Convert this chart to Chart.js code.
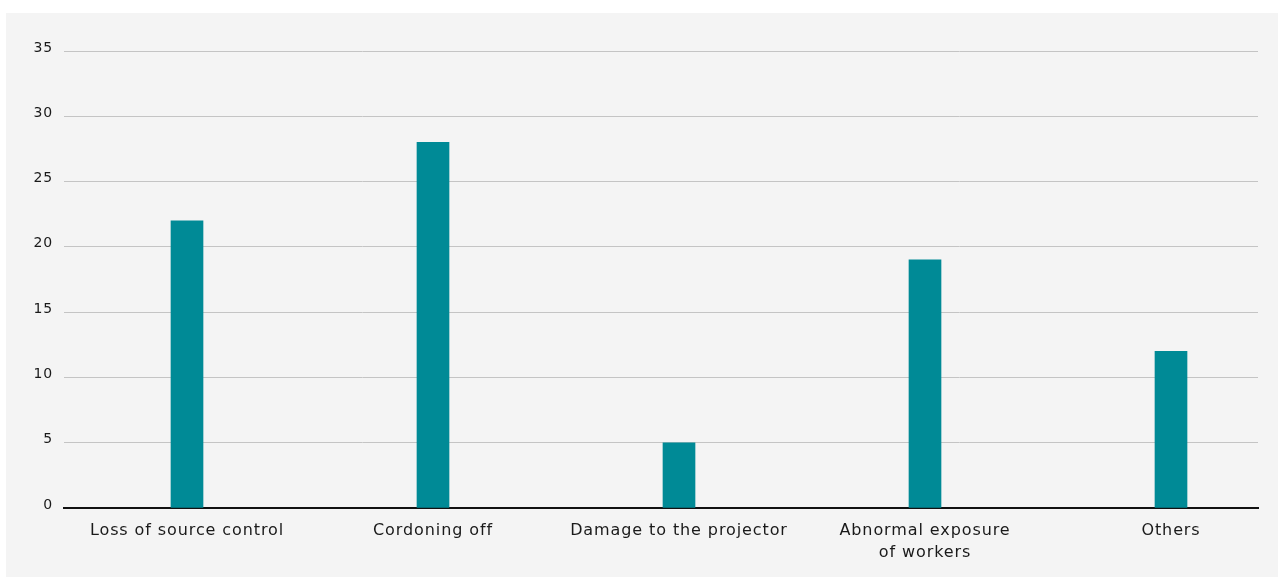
<!DOCTYPE html>
<html>
<head>
<meta charset="utf-8">
<script src="https://cdn.jsdelivr.net/npm/chart.js@4"></script>
<style>
  html, body { margin: 0; padding: 0; background: #ffffff; }
  #panel { position: absolute; left: 6px; top: 13px; width: 1272px; height: 564px; background: #f4f4f4; }
</style>
</head>
<body>
<div id="panel"><canvas id="c"></canvas></div>
<script>
const categories = ["Loss of source control", "Cordoning off", "Damage to the projector", ["Abnormal exposure", "of workers"], "Others"];
const values = [22, 28, 5, 19, 12];
const yTicks = [0, 5, 10, 15, 20, 25, 30, 35];

const FONT = "'DejaVu Sans', sans-serif";
const points = values.map((v, i) => ({ x: i, y: v }));

const spacing = {
  id: 'spacing',
  beforeInit: (chart) => { chart.ctx.letterSpacing = '0.9px'; },
  beforeLayout: (chart) => { chart.ctx.letterSpacing = '0.9px'; },
  beforeDraw: (chart) => { chart.ctx.letterSpacing = '0.9px'; }
};

new Chart(document.getElementById('c'), {
  type: 'bar',
  plugins: [spacing],
  data: {
    datasets: [{
      data: points,
      backgroundColor: '#008a96',
      borderWidth: 0,
      barThickness: 32
    }]
  },
  options: {
    responsive: true,
    maintainAspectRatio: false,
    animation: false,
    layout: { padding: { top: 38, right: 20, left: 0, bottom: 0 } },
    plugins: { legend: { display: false }, tooltip: { enabled: false } },
    scales: {
      x: {
        type: 'linear',
        offset: false,
        min: -0.5,
        max: -0.5 + 1194 / 246,
        afterBuildTicks: (s) => { s.ticks = categories.map((c, i) => ({ value: i })); },
        afterFit: (s) => { s.height = 69; },
        grid: { display: false, drawTicks: false },
        border: { display: true, color: '#111111', width: 2 },
        ticks: {
          autoSkip: false,
          maxRotation: 0,
          padding: 12,
          color: '#1a1a1a',
          font: { family: FONT, size: 16, lineHeight: 1.36 },
          callback: (v) => categories[v]
        }
      },
      y: {
        min: 0,
        max: 35,
        afterBuildTicks: (s) => { s.ticks = yTicks.map(v => ({ value: v })); },
        afterFit: (s) => { s.width = 58; },
        grid: { color: '#c4c4c4', lineWidth: 1, drawTicks: false },
        border: { display: false },
        ticks: {
          padding: 11,
          labelOffset: -3,
          color: '#1a1a1a',
          font: { family: FONT, size: 14 }
        }
      }
    }
  }
});
</script>
</body>
</html>
